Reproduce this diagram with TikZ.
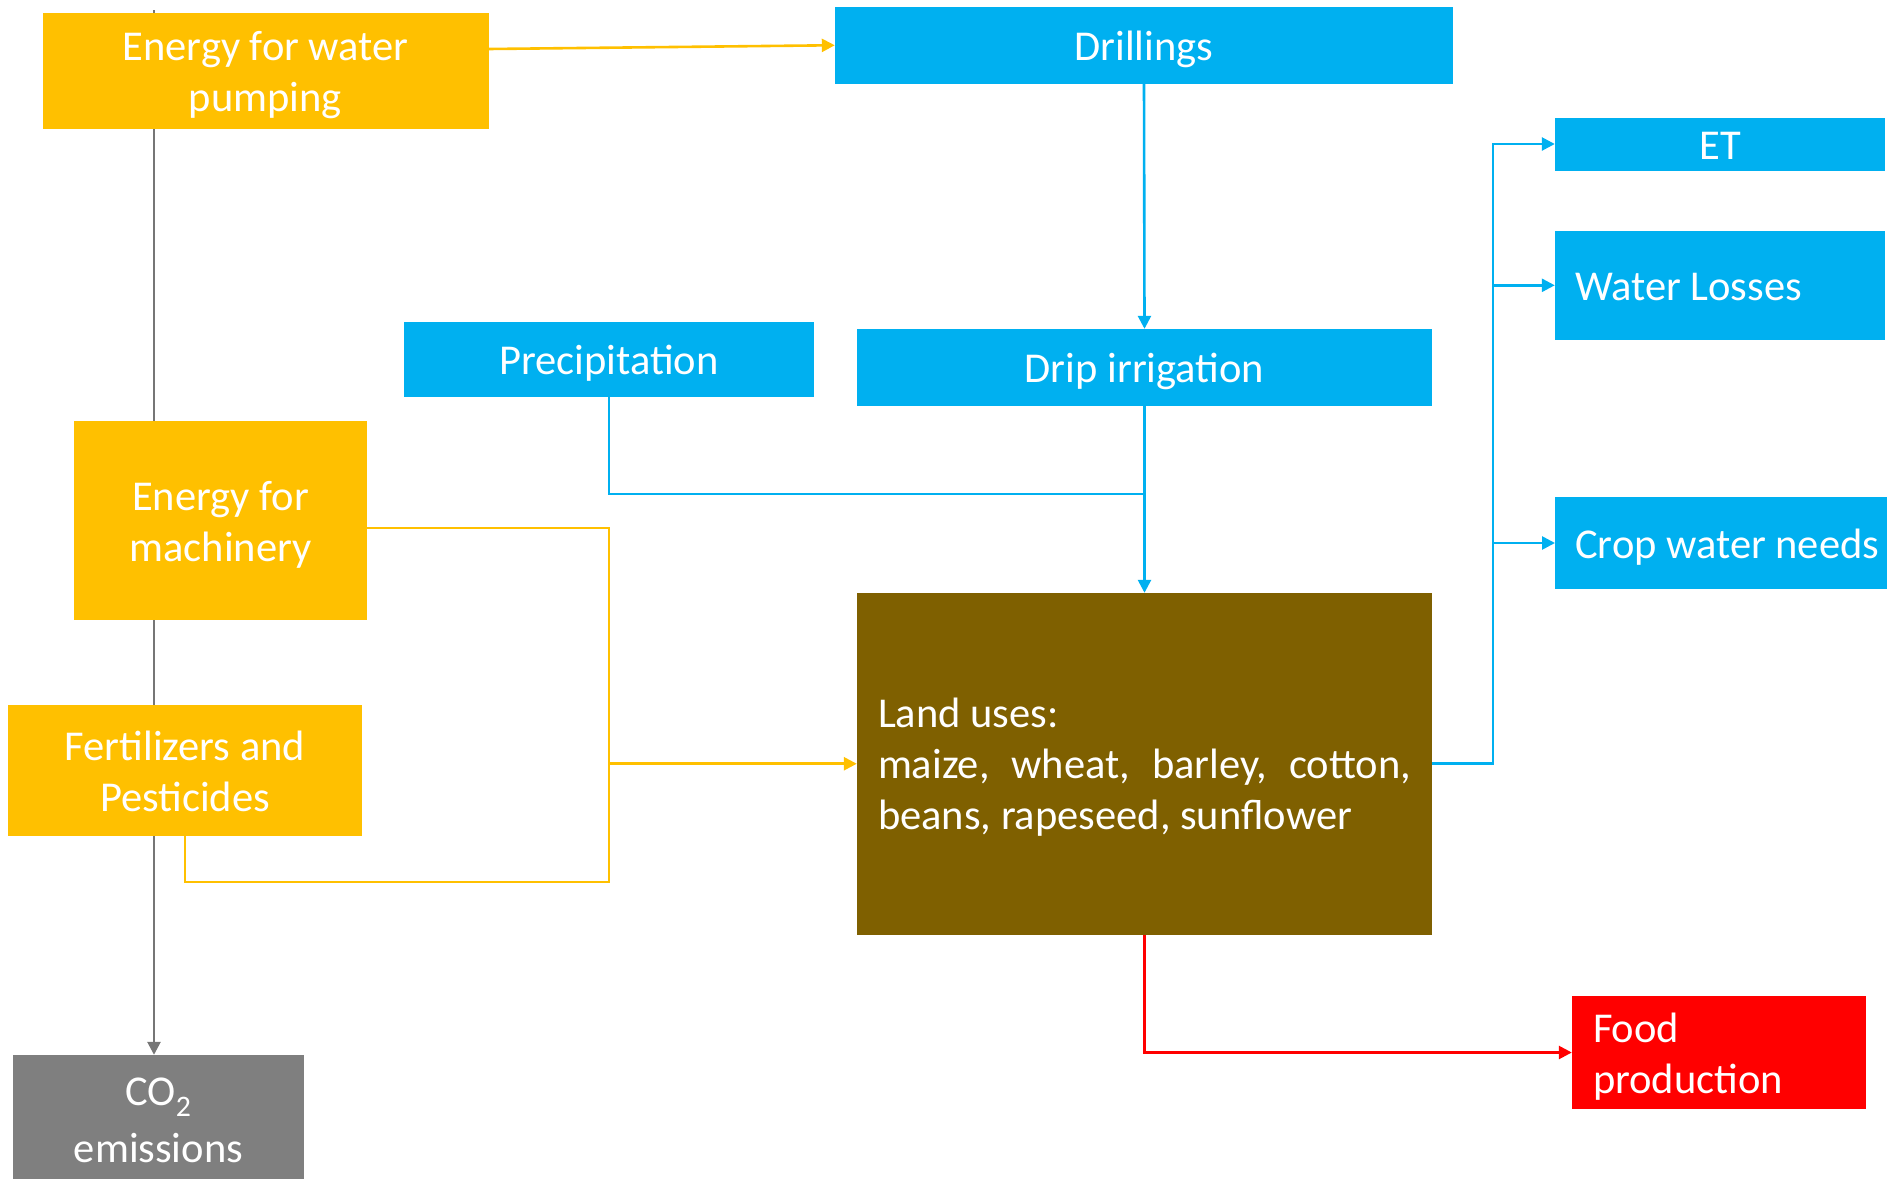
\documentclass[tikz,border=0pt]{standalone}
\usepackage{fontspec}
\setmainfont{Carlito}
\usetikzlibrary{arrows.meta,backgrounds}
\definecolor{cyel}{HTML}{FFC000}
\definecolor{cblu}{HTML}{00B0F0}
\definecolor{cbrn}{HTML}{7F6000}
\definecolor{cred}{HTML}{FF0000}
\definecolor{cgry}{HTML}{7F7F7F}
\definecolor{cgln}{HTML}{767676}
\newcommand\bxa{\rule{0pt}{41.5pt}}
\newcommand\bxz{\rule[-11.5pt]{0pt}{0pt}}
\begin{document}
\begin{tikzpicture}[x=1pt,y=-1pt,
  box/.style={draw=none,inner sep=0pt,text=white,font=\fontsize{42.5}{51}\selectfont},
  cbox/.style={box,align=center},
  lbox/.style={box,align=flush left,inner xsep=20pt},
  conn/.style={line width=2.6pt},
  tip/.style={-{Triangle[length=13pt,width=13pt]}}]
\useasboundingbox (0,0) rectangle (1887,1178);
\clip (0,0) rectangle (1887,1178);

\node[cbox,fill=cyel,minimum width=446pt,minimum height=116pt] (ew) at (265.5,70.7) {\bxa Energy for water\\pumping\bxz};
\node[cbox,fill=cblu,minimum width=618pt,minimum height=76.5pt] (dr) at (1144,45.25) {\bxa Drillings\bxz};
\node[cbox,fill=cblu,minimum width=330pt,minimum height=52pt] (et) at (1720,144) {\bxa ET\bxz};
\node[lbox,fill=cblu,text width=290pt,minimum height=108.7pt] (wl) at (1720,285.3) {\bxa Water Losses\bxz};
\node[cbox,fill=cblu,minimum width=410pt,minimum height=75pt] (pr) at (609,359.5) {\bxa Precipitation\bxz};
\node[cbox,fill=cblu,minimum width=575pt,minimum height=77pt] (di) at (1144.5,367.5) {\bxa Drip irrigation\bxz};
\node[cbox,fill=cyel,minimum width=293pt,minimum height=199pt] (em) at (220.5,520.5) {\bxa Energy for\\machinery\bxz};
\node[lbox,fill=cblu,text width=320pt,minimum height=92pt,anchor=west] (cw) at (1555,543) {\bxa Crop water needs\bxz};
\node[lbox,fill=cbrn,inner xsep=21pt,text width=533pt,minimum height=341.5pt] (lu) at (1144.5,763.75)
  {\bxa Land uses:\\\makebox[533pt][s]{maize,\ \ wheat,\ \ barley,\ \ cotton,}\\beans, rapeseed, sunflower\bxz};
\node[cbox,fill=cyel,minimum width=354pt,minimum height=131pt] (fp) at (185,770.5) {\bxa Fertilizers and\\Pesticides\bxz};
\node[cbox,fill=cgry,minimum width=291pt,minimum height=128pt] (co) at (158.5,1119) {\bxa CO\textsubscript{2}\\[6pt]emissions\bxz};
\node[lbox,fill=cred,inner xsep=21pt,text width=252pt,minimum height=113pt] (fd) at (1719,1052.5) {\bxa Food\\production\bxz};

\coordinate (gtop) at (154,10);
\coordinate (yj) at (609,882);
\coordinate (ym) at (609,763.75);
\coordinate (pj) at (1144.5,494);
\coordinate (bt) at (1493,144);

\begin{scope}[on background layer]
\draw[conn,cgln,tip] (gtop) -- (gtop |- co.north);
\draw[conn,cyel,tip] ([yshift=21.7pt]ew.east) -- (dr.west);
\draw[conn,cyel] ([yshift=-7.5pt]em.east) -| (yj) -| (fp.south);
\draw[conn,cyel,tip] (ym) -- (lu.west);
\draw[conn,cblu,tip] (dr.south) -- (di.north);
\draw[conn,cblu] (pr.south) |- (pj);
\draw[conn,cblu,tip] (di.south) -- (lu.north);
\draw[conn,cblu,tip] (lu.east) -| (bt) -- (et.west);
\draw[conn,cblu,tip] (bt |- wl.west) -- (wl.west);
\draw[conn,cblu,tip] (bt |- cw.west) -- (cw.west);
\draw[conn,cred,tip] (lu.south) |- (fd.west);
\end{scope}
\end{tikzpicture}
\end{document}
